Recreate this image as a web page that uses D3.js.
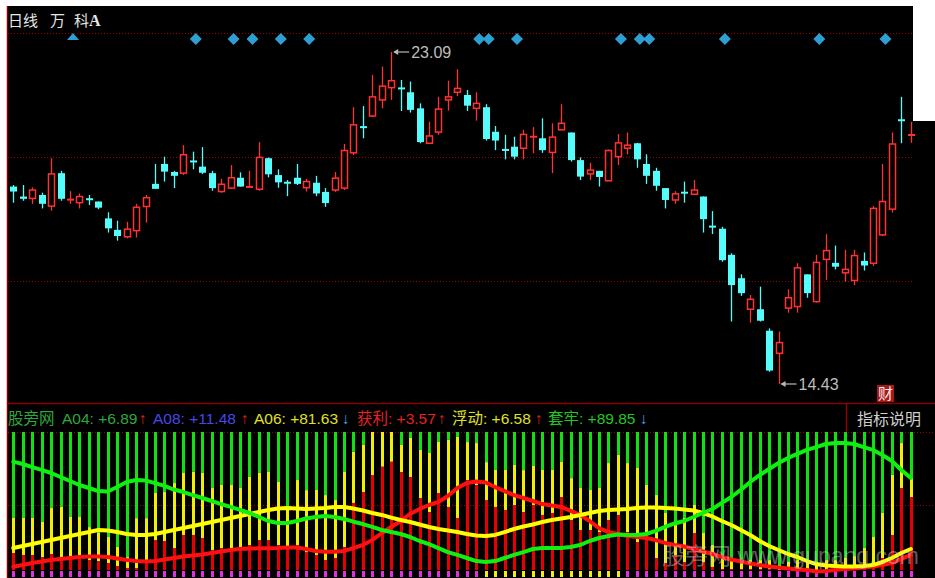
<!DOCTYPE html>
<html><head><meta charset="utf-8">
<script src="https://cdn.jsdelivr.net/npm/d3@7"></script>
<style>body{margin:0;background:#fff;}svg{display:block;}</style>
</head><body>
<svg id="c" width="935" height="578"></svg>
<script>
// ---------- candle data (price) ----------
const openP  = [19.58,19.32,19.27,19.36,19.07,19.93,19.23,19.16,19.26,19.19,18.75,18.45,18.27,18.43,19.06,19.65,20.17,19.96,19.93,20.25,20.10,19.93,19.45,19.54,19.81,19.56,19.51,20.32,19.88,19.69,19.81,19.55,19.68,19.44,19.49,19.54,20.46,21.14,21.42,21.84,22.16,22.15,22.04,21.62,20.71,21.00,21.84,22.04,21.97,21.62,21.65,21.01,20.54,20.62,20.58,20.87,20.84,20.47,21.06,20.99,20.27,19.91,19.99,19.73,20.36,20.58,20.71,20.17,19.99,19.54,19.23,19.43,19.38,19.32,18.54,18.48,17.80,17.19,16.38,16.38,15.82,15.23,16.41,16.45,17.29,16.58,17.68,17.59,17.33,17.13,17.64,17.58,18.32,18.99,21.32,20.92];
const highP  = [19.62,19.62,19.56,19.42,20.32,19.99,19.46,19.40,19.36,19.19,18.91,18.69,18.66,19.13,19.36,20.17,20.36,19.99,20.66,20.49,20.61,19.99,19.78,20.14,19.95,19.99,20.74,20.34,20.03,19.75,20.17,19.78,19.86,19.54,19.96,20.69,21.65,21.68,22.49,22.71,23.09,22.36,22.32,21.75,21.27,21.92,22.34,22.64,22.10,22.04,21.73,21.16,20.93,20.88,21.06,21.13,21.36,21.23,21.73,20.99,20.34,20.20,19.99,20.55,20.95,20.99,20.72,20.42,20.07,19.54,19.46,19.71,19.75,19.32,18.94,18.53,17.84,17.29,16.75,16.97,15.88,15.80,16.90,17.58,17.29,17.80,18.34,18.04,17.93,17.93,17.86,19.07,20.17,20.99,21.92,21.27];
const lowP   = [19.16,19.21,19.13,19.01,18.95,19.21,19.13,19.01,19.10,18.99,18.38,18.17,18.23,18.25,18.64,19.52,19.71,19.54,19.88,20.03,19.91,19.47,19.42,19.52,19.58,19.54,19.47,19.82,19.55,19.33,19.62,19.45,19.33,19.05,19.44,19.49,20.40,20.84,21.39,21.62,21.84,21.55,21.51,20.71,20.71,20.93,21.56,21.94,21.55,21.30,20.78,20.53,20.29,20.29,20.29,20.45,20.46,19.93,21.06,20.23,19.75,19.75,19.58,19.73,20.14,20.42,20.07,19.65,19.47,19.01,19.13,19.16,19.38,18.38,18.34,17.62,16.06,16.73,16.03,16.06,14.75,14.43,16.29,16.29,16.68,16.55,17.14,17.42,17.10,17.01,17.39,17.51,18.29,18.90,20.71,20.72];
const closeP = [19.45,19.26,19.49,19.13,19.91,19.26,19.25,19.32,19.24,19.03,18.49,18.29,18.47,19.04,19.29,19.52,19.97,19.86,20.41,20.22,19.94,19.54,19.64,19.81,19.58,19.58,20.34,19.90,19.69,19.67,19.65,19.71,19.40,19.15,19.80,20.52,21.19,21.12,21.92,22.20,22.34,22.13,21.58,20.74,20.90,21.60,21.92,22.14,21.69,21.75,20.82,20.78,20.53,20.36,20.94,20.89,20.53,20.87,21.23,20.27,19.84,20.01,19.83,20.52,20.72,20.66,20.29,19.86,19.60,19.23,19.39,19.41,19.49,18.73,18.53,17.66,17.01,16.80,16.64,16.08,14.78,15.51,16.68,17.46,16.80,17.60,17.91,17.49,17.42,17.78,17.52,19.01,19.19,20.69,21.30,20.93];
const priceGrid = [23.59, 20.35, 17.12];
const signalIdx = [19,23,25,28,31,49,50,53,64,66,67,75,85,92];
const triangleIdx = [6];
const maxLabel = {i:40, v:"23.09"}, minLabel = {i:81, v:"14.43"};

// ---------- lower panel data (percent) ----------
const huoLi = [12.3,10.9,10.9,9.4,11.6,8.7,8.7,9.4,7.2,6.5,5.1,2.9,1.4,1.4,7.2,21.7,21.0,15.9,25.4,25.4,23.2,14.5,15.9,15.9,14.5,18.1,21.7,21.7,18.1,15.9,18.1,13.0,10.9,7.2,8.7,16.7,48.6,56.5,68.8,74.9,78.5,71.0,67.4,52.2,42.0,55.8,45.7,37.7,65.2,61.6,50.7,45.7,43.5,47.1,42.0,47.1,39.9,41.3,52.9,36.2,29.0,29.0,27.5,36.2,39.9,27.5,20.3,27.5,8.7,5.1,10.9,5.8,26.8,5.8,2.2,0.7,0.7,0.7,0.7,0.7,0.7,0,0,0,0,0,0,0.7,0.7,0.7,2.2,3.6,8.7,25.4,59.4,52.9];
const fuDong = [25.4,26.8,26.8,25.4,33.3,37.0,29.7,29.0,23.9,20.3,18.8,13.8,8.0,36.2,30.4,34.1,35.5,47.1,44.9,45.7,47.1,44.9,45.7,45.7,44.9,49.3,48.6,49.3,45.7,29.7,47.1,44.9,47.1,47.1,42.0,54.3,37.0,34.1,31.2,25.1,21.5,19.6,28.3,34.8,42.8,37.0,48.6,58.7,27.5,30.4,27.5,26.8,29.0,29.0,30.4,28.3,32.6,31.2,25.4,30.4,30.4,29.0,31.9,41.3,43.5,50.0,53.6,34.1,45.7,36.2,21.7,31.9,20.3,21.0,15.9,9.4,6.5,6.5,6.5,6.5,6.5,3.6,5.8,7.2,7.2,5.8,7.2,6.5,8.0,9.4,13.8,20.3,32.6,43.5,32.6,13.8];
const baseFlag = d3.range(96).map(i => (i>=50 && i<=64) ? "fu" : "base");
const lineGreen = [78.5,76.8,74.6,72.5,70.3,67.4,64.5,61.6,59.4,57.2,56.9,60.1,63.8,65.2,64.9,63.0,60.9,58.3,56.5,54.3,52.2,50.0,47.8,45.7,43.5,41.3,38.4,35.5,34.1,34.1,35.5,37.3,38.4,39.1,38.4,37.0,35.0,33.3,31.2,29.0,27.5,26.1,23.9,21.0,18.8,15.9,13.0,10.9,8.7,6.5,5.8,6.5,8.7,10.9,13.0,15.2,15.9,15.9,15.9,16.7,18.1,21.0,23.2,24.6,25.7,25.4,25.4,26.1,28.3,31.2,33.7,35.5,38.4,41.3,44.2,48.6,52.9,58.0,63.8,68.8,73.2,77.5,81.2,84.1,87.0,89.1,91.3,92.0,92.0,91.3,89.1,87.0,83.3,79.0,72.5,66.7];
const lineYellow = [15.9,17.4,18.8,20.3,21.7,23.2,24.6,26.1,27.5,29.0,28.6,27.5,26.1,25.4,25.4,26.1,27.5,29.0,30.4,31.9,33.3,34.8,36.2,37.7,39.1,40.6,42.0,43.5,44.6,44.9,44.6,44.2,44.6,44.9,45.7,45.7,44.6,43.1,41.3,39.9,38.0,36.2,34.8,33.0,31.2,29.7,28.6,27.5,26.1,25.0,24.6,25.4,27.5,29.7,31.5,33.0,34.8,36.2,37.3,38.4,39.9,41.3,42.8,43.5,43.8,44.2,44.9,45.3,45.3,44.9,44.6,43.8,43.1,41.3,38.8,35.5,32.6,29.0,25.4,21.0,17.4,14.5,11.6,9.4,6.5,4.3,3.3,2.9,2.5,2.5,2.9,3.6,5.8,8.7,12.3,15.2];
const lineRed = [2.4,3.6,5.1,6.2,7.2,8.0,8.7,9.4,9.8,9.8,9.4,8.3,7.2,6.5,6.2,6.5,7.6,8.7,9.8,10.5,11.2,12.3,13.4,14.5,15.2,15.6,15.7,15.7,15.9,16.3,16.3,15.2,13.8,13.3,13.3,13.8,15.9,18.1,21.7,26.8,31.2,35.5,40.6,44.2,47.1,49.3,53.6,59.4,63.0,64.1,63.4,60.1,57.2,54.3,52.2,50.0,47.8,46.7,45.7,42.8,39.9,35.5,30.4,27.5,26.1,24.6,23.9,23.2,21.7,19.6,18.1,17.0,15.2,13.4,11.6,9.4,7.6,6.2,4.7,3.6,2.5,1.8,1.1,0.4,0.0,-1.1,-0.7,0.0,0.7,1.1,1.8,2.5,3.6,5.1,8.0,10.9];
const lowerGrid = [100, 47];
const legendItems = [
  {t:"股旁网", x:8, c:"#2fa83a"},
  {t:"A04: +6.89", x:62, c:"#2fa83a"}, {t:"↑", x:139, c:"#e02020"},
  {t:"A08: +11.48", x:153, c:"#4848e8"}, {t:"↑", x:241, c:"#e02020"},
  {t:"A06: +81.63", x:254, c:"#e0e020"}, {t:"↓", x:342, c:"#3aa8e8"},
  {t:"获利: +3.57", x:357, c:"#e82020"}, {t:"↑", x:438, c:"#e02020"},
  {t:"浮动: +6.58", x:452, c:"#e0e020"}, {t:"↑", x:535, c:"#e02020"},
  {t:"套牢: +89.85", x:548, c:"#20c820"}, {t:"↓", x:640, c:"#3aa8e8"}
];

const svg = d3.select("#c");
const FONT = "'Liberation Sans','Noto Sans CJK SC',sans-serif";
const N = openP.length;

// backgrounds
svg.append("rect").attr("x",0).attr("y",0).attr("width",935).attr("height",578).attr("fill","#fff");
svg.append("rect").attr("x",7).attr("y",6).attr("width",928).attr("height",572).attr("fill","#000");
svg.append("rect").attr("x",913).attr("y",0).attr("width",22).attr("height",121).attr("fill","#fff");
svg.append("line").attr("x1",7.5).attr("x2",7.5).attr("y1",6).attr("y2",578).attr("stroke","#8a0000").attr("stroke-width",1.5);

const x = d3.scaleLinear().domain([0, N-1]).range([13.3, 910.8]);
const y = d3.scaleLinear().domain([14.43, 23.09]).range([384, 52]);
const v = d3.scaleLinear().domain([0, 100]).range([570, 432]);

// price gridlines
svg.append("g").selectAll("line").data(priceGrid).join("line")
  .attr("x1",8).attr("x2",912).attr("y1",d=>Math.round(y(d))+0.5).attr("y2",d=>Math.round(y(d))+0.5)
  .attr("stroke","#a00000").attr("stroke-dasharray","1,2");

// title
const tg = svg.append("g").attr("font-family",FONT).attr("font-size",15).attr("fill","#e6e6e6");
tg.append("text").attr("x",8).attr("y",26).text("日线");
tg.append("text").attr("x",50).attr("y",26).text("万");
tg.append("text").attr("x",74).attr("y",26).text("科");
tg.append("text").attr("x",89).attr("y",26).attr("font-weight","bold").attr("font-size",16).attr("font-family","'Liberation Serif',serif").text("A");

// candles
const CUP = "#ff3232", CDN = "#54fcfc", BW = 7;
const cg = svg.append("g");
d3.range(N).forEach(i=>{
  const o=openP[i], c=closeP[i], h=highP[i], l=lowP[i], cx=Math.round(x(i))+0.5;
  const up = c>=o, col = up?CUP:CDN;
  const top = y(Math.max(o,c)), bot = y(Math.min(o,c));
  if (bot-top < 2) {
    cg.append("line").attr("x1",cx).attr("x2",cx).attr("y1",y(h)).attr("y2",y(l)).attr("stroke",col).attr("stroke-width",1.3);
    cg.append("rect").attr("x",cx-BW/2).attr("y",(top+bot)/2-1).attr("width",BW).attr("height",2).attr("fill",col);
  } else if (up) {
    cg.append("line").attr("x1",cx).attr("x2",cx).attr("y1",y(h)).attr("y2",top).attr("stroke",col).attr("stroke-width",1.3);
    cg.append("line").attr("x1",cx).attr("x2",cx).attr("y1",bot).attr("y2",y(l)).attr("stroke",col).attr("stroke-width",1.3);
    cg.append("rect").attr("x",cx-BW/2+0.5).attr("y",top).attr("width",BW-1).attr("height",bot-top).attr("fill","#000").attr("stroke",col).attr("stroke-width",1.5);
  } else {
    cg.append("line").attr("x1",cx).attr("x2",cx).attr("y1",y(h)).attr("y2",y(l)).attr("stroke",col).attr("stroke-width",1.3);
    cg.append("rect").attr("x",cx-BW/2).attr("y",top).attr("width",BW).attr("height",bot-top).attr("fill",col);
  }
});

// signal diamonds
const DY = 39;
svg.append("g").selectAll("path").data(signalIdx).join("path")
  .attr("d",d=>{const cx=x(d)+3;return `M${cx},${DY-6}L${cx+6},${DY}L${cx},${DY+6}L${cx-6},${DY}Z`;})
  .attr("fill","#2e9fd2");
svg.append("g").selectAll("path").data(triangleIdx).join("path")
  .attr("d",d=>{const cx=x(d)+3;return `M${cx},${DY-6}L${cx+6},${DY+1}L${cx-6},${DY+1}Z`;})
  .attr("fill","#2e9fd2");

// max / min labels
function priceLabel(idx, py, lbl){
  const x0 = x(idx)+1;
  const g = svg.append("g").attr("stroke","#b8b8b8").attr("fill","#b8b8b8");
  g.append("line").attr("x1",x0+2).attr("x2",x0+17).attr("y1",py).attr("y2",py).attr("stroke-width",1.2);
  g.append("path").attr("d",`M${x0+1},${py}L${x0+6},${py-3}L${x0+6},${py+3}Z`).attr("stroke","none");
  svg.append("text").attr("x",x0+19).attr("y",py+6).attr("font-family",FONT).attr("font-size",16)
    .attr("fill","#bdbdbd").text(lbl);
}
priceLabel(maxLabel.i, y(+maxLabel.v), maxLabel.v);
priceLabel(minLabel.i, y(+minLabel.v), minLabel.v);

// 财 badge
svg.append("rect").attr("x",877).attr("y",385).attr("width",17).attr("height",17).attr("fill","#a81818");
svg.append("text").attr("x",885.5).attr("y",399).attr("text-anchor","middle").attr("font-family","'Noto Sans CJK SC',sans-serif")
  .attr("font-size",15).attr("fill","#f4eaea").text("财");

// separator + legend row
svg.append("line").attr("x1",7).attr("x2",935).attr("y1",403.5).attr("y2",403.5).attr("stroke","#8a0000").attr("stroke-width",1.5);
svg.append("line").attr("x1",846.5).attr("x2",846.5).attr("y1",403).attr("y2",432).attr("stroke","#8a0000").attr("stroke-width",1.5);
svg.append("text").attr("x",889).attr("y",425).attr("text-anchor","middle").attr("font-family","'Noto Sans CJK SC',sans-serif")
  .attr("font-size",16).attr("fill","#cfcfcf").text("指标说明");
svg.append("g").selectAll("text").data(legendItems).join("text")
  .attr("x",d=>d.x).attr("y",424).attr("font-family",FONT).attr("font-size",15.5)
  .attr("fill",d=>d.c).text(d=>d.t);

// lower gridlines
svg.append("g").selectAll("line").data(lowerGrid).join("line")
  .attr("x1",8).attr("x2",935).attr("y1",d=>Math.round(v(d))+0.5).attr("y2",d=>Math.round(v(d))+0.5)
  .attr("stroke","#a00000").attr("stroke-dasharray","1,2");

// stacked bars
const rows = d3.range(N).map(i=>({i, huo:huoLi[i], fu:fuDong[i], tao:Math.max(0,100-huoLi[i]-fuDong[i]), base:baseFlag[i]}));
const stack = d3.stack().keys(["huo","fu","tao"])(rows);
const barCol = {huo:"#e80000", fu:"#f0f000", tao:"#12e012", base:"#e030e0"};
const BWB = 3;
const bg = svg.append("g");
stack.forEach(s=>{
  bg.append("g").attr("fill",barCol[s.key]).selectAll("rect").data(s).join("rect")
    .attr("x",d=>Math.round(x(d.data.i))-1).attr("width",BWB)
    .attr("y",d=>v(d[1])).attr("height",d=>Math.max(0,v(d[0])-v(d[1])));
});
bg.append("g").selectAll("rect").data(rows).join("rect")
  .attr("fill",d=>barCol[d.base])
  .attr("x",d=>Math.round(x(d.i))-1).attr("width",BWB).attr("y",v(0)+1).attr("height",6);

// lines
const line = d3.line().x((d,i)=>x(i)).y(d=>v(d));
[[lineRed,"#ff1010"],[lineYellow,"#ffff00"],[lineGreen,"#10f010"]].forEach(([arr,col])=>{
  svg.append("path").datum(arr).attr("d",line).attr("fill","none").attr("stroke",col)
    .attr("stroke-width",4).attr("stroke-linejoin","round").attr("stroke-linecap","round");
});

// watermark
svg.append("text").attr("x",662).attr("y",564).attr("font-family",FONT).attr("font-size",23)
  .attr("fill","rgba(210,210,210,0.45)").text("股旁网 www.gupang.com");
</script>
</body></html>
